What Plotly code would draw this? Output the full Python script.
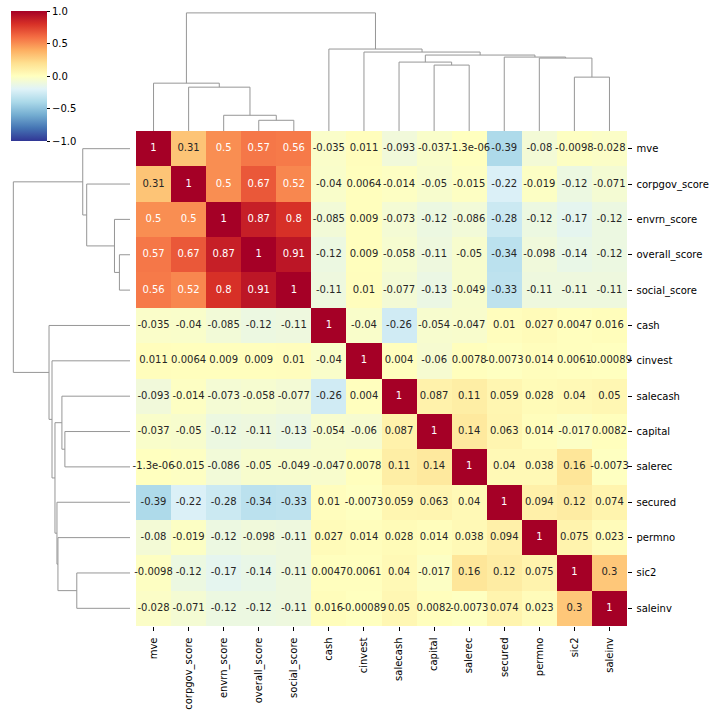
import plotly.graph_objects as go

W, H = 712, 713

labels = ["mve", "corpgov_score", "envrn_score", "overall_score", "social_score",
          "cash", "cinvest", "salecash", "capital", "salerec", "secured",
          "permno", "sic2", "saleinv"]

corr = [
    [1, 0.31, 0.5, 0.57, 0.56, -0.035, 0.011, -0.093, -0.037, -1.3e-06, -0.39, -0.08, -0.0098, -0.028],
    [0.31, 1, 0.5, 0.67, 0.52, -0.04, 0.0064, -0.014, -0.05, -0.015, -0.22, -0.019, -0.12, -0.071],
    [0.5, 0.5, 1, 0.87, 0.8, -0.085, 0.009, -0.073, -0.12, -0.086, -0.28, -0.12, -0.17, -0.12],
    [0.57, 0.67, 0.87, 1, 0.91, -0.12, 0.009, -0.058, -0.11, -0.05, -0.34, -0.098, -0.14, -0.12],
    [0.56, 0.52, 0.8, 0.91, 1, -0.11, 0.01, -0.077, -0.13, -0.049, -0.33, -0.11, -0.11, -0.11],
    [-0.035, -0.04, -0.085, -0.12, -0.11, 1, -0.04, -0.26, -0.054, -0.047, 0.01, 0.027, 0.0047, 0.016],
    [0.011, 0.0064, 0.009, 0.009, 0.01, -0.04, 1, 0.004, -0.06, 0.0078, -0.0073, 0.014, 0.0061, -0.00089],
    [-0.093, -0.014, -0.073, -0.058, -0.077, -0.26, 0.004, 1, 0.087, 0.11, 0.059, 0.028, 0.04, 0.05],
    [-0.037, -0.05, -0.12, -0.11, -0.13, -0.054, -0.06, 0.087, 1, 0.14, 0.063, 0.014, -0.017, 0.0082],
    [-1.3e-06, -0.015, -0.086, -0.05, -0.049, -0.047, 0.0078, 0.11, 0.14, 1, 0.04, 0.038, 0.16, -0.0073],
    [-0.39, -0.22, -0.28, -0.34, -0.33, 0.01, -0.0073, 0.059, 0.063, 0.04, 1, 0.094, 0.12, 0.074],
    [-0.08, -0.019, -0.12, -0.098, -0.11, 0.027, 0.014, 0.028, 0.014, 0.038, 0.094, 1, 0.075, 0.023],
    [-0.0098, -0.12, -0.17, -0.14, -0.11, 0.0047, 0.0061, 0.04, -0.017, 0.16, 0.12, 0.075, 1, 0.3],
    [-0.028, -0.071, -0.12, -0.12, -0.11, 0.016, -0.00089, 0.05, 0.0082, -0.0073, 0.074, 0.023, 0.3, 1],
]

# linkage: (child_a, child_b, height); ids >= 14 are earlier merges (in leaf display order)
merges = [
    (3, 4, 32), (2, 14, 47), (1, 15, 131), (0, 16, 143),
    (8, 9, 197), (7, 18, 206), (12, 13, 161), (11, 20, 218),
    (10, 21, 221), (19, 22, 227), (6, 23, 236), (5, 24, 245),
    (17, 25, 353),
]

colorbar_ticks = [-1.0, -0.5, 0.0, 0.5, 1.0]

rdylbu_r = [(49, 54, 149), (69, 117, 180), (116, 173, 209), (171, 217, 233),
            (224, 243, 248), (255, 255, 191), (254, 224, 144), (253, 174, 97),
            (244, 109, 67), (215, 48, 39), (165, 0, 38)]
n = len(labels)
colorscale = [[i / 10, "rgb(%d,%d,%d)" % c] for i, c in enumerate(rdylbu_r)]


def cmap(v):
    t = (v + 1) / 2 * 10
    t = min(max(t, 0), 10)
    i = min(int(t), 9)
    f = t - i
    a, b = rdylbu_r[i], rdylbu_r[i + 1]
    return [a[k] + (b[k] - a[k]) * f for k in range(3)]


def lum(rgb):
    out = []
    for c in rgb:
        c = c / 255
        out.append(c / 12.92 if c <= 0.03928 else ((c + 0.055) / 1.055) ** 2.4)
    return 0.2126 * out[0] + 0.7152 * out[1] + 0.0722 * out[2]


# dendrogram coordinates
pos = {i: 5 + 10 * i for i in range(n)}
hgt = {i: 0 for i in range(n)}
segs = []
for k, (a, b, h) in enumerate(merges):
    cid = n + k
    segs.append(([pos[a], pos[a], pos[b], pos[b]], [hgt[a], h, h, hgt[b]]))
    pos[cid] = (pos[a] + pos[b]) / 2
    hgt[cid] = h
maxh = max(m[2] for m in merges) * 1.05

fig = go.Figure()

fig.add_trace(go.Heatmap(
    z=corr, x=list(range(n)), y=list(range(n)),
    zmin=-1, zmax=1, colorscale=colorscale, xaxis="x", yaxis="y",
    hoverinfo="skip",
    colorbar=dict(
        x=11 / W, xanchor="left", xref="paper", y=1 - 11 / H, yanchor="top", yref="paper",
        len=130, lenmode="pixels", thickness=36, thicknessmode="pixels",
        xpad=0, ypad=0, outlinewidth=0,
        tickvals=colorbar_ticks,
        ticktext=[("%.1f" % v).replace("-", "\u2212") for v in colorbar_ticks],
        ticks="outside", ticklen=3.5, tickwidth=0.8, tickcolor="black",
        tickfont=dict(family="DejaVu Sans", size=10, color="black"),
    ),
))

tx, ty, tt, tc = [], [], [], []
for i in range(n):
    for j in range(n):
        v = corr[i][j]
        tx.append(j)
        ty.append(i)
        tt.append("{:.2g}".format(v))
        tc.append("#262626" if lum(cmap(v)) > 0.408 else "white")
fig.add_trace(go.Scatter(x=tx, y=ty, text=tt, mode="text", xaxis="x", yaxis="y",
                         cliponaxis=False,
                         textfont=dict(family="DejaVu Sans", size=10, color=tc),
                         hoverinfo="skip", showlegend=False))

lc = "rgb(150,150,150)"
dx, dy = [], []
for xs, ys in segs:
    dx += xs + [None]
    dy += ys + [None]
fig.add_trace(go.Scatter(x=dx, y=dy, mode="lines", line=dict(color=lc, width=1),
                         xaxis="x2", yaxis="y2", hoverinfo="skip", showlegend=False))
fig.add_trace(go.Scatter(x=dy, y=dx, mode="lines", line=dict(color=lc, width=1),
                         xaxis="x3", yaxis="y3", hoverinfo="skip", showlegend=False))

hx = [136 / W, 627 / W]
hy = [1 - 626 / H, 1 - 131 / H]
tickfont = dict(family="DejaVu Sans", size=10, color="black")

fig.update_layout(
    width=W, height=H, margin=dict(l=0, r=0, t=0, b=0),
    paper_bgcolor="white", plot_bgcolor="white", showlegend=False,
    xaxis=dict(domain=hx, anchor="y", range=[-0.5, n - 0.5], tickvals=list(range(n)),
               ticktext=labels, tickangle=-90, ticks="outside", ticklen=3.5,
               tickwidth=0.8, tickcolor="black", tickfont=tickfont, showgrid=False,
               zeroline=False, showline=False, ticklabelstandoff=3),
    yaxis=dict(domain=hy, anchor="x", side="right", range=[n - 0.5, -0.5],
               tickvals=list(range(n)), ticktext=labels, ticks="outside", ticklen=3.5,
               tickwidth=0.8, tickcolor="black", tickfont=tickfont, showgrid=False,
               zeroline=False, showline=False, ticklabelstandoff=3),
    xaxis2=dict(domain=hx, anchor="y2", range=[0, 10 * n], visible=False),
    yaxis2=dict(domain=[1 - 131 / H, 1 - 7 / H], anchor="x2", range=[0, maxh], visible=False),
    xaxis3=dict(domain=[7.5 / W, 130 / W], anchor="y3", range=[maxh, 0], visible=False),
    yaxis3=dict(domain=hy, anchor="x3", range=[10 * n, 0], visible=False),
)

fig.write_html("out.html")
